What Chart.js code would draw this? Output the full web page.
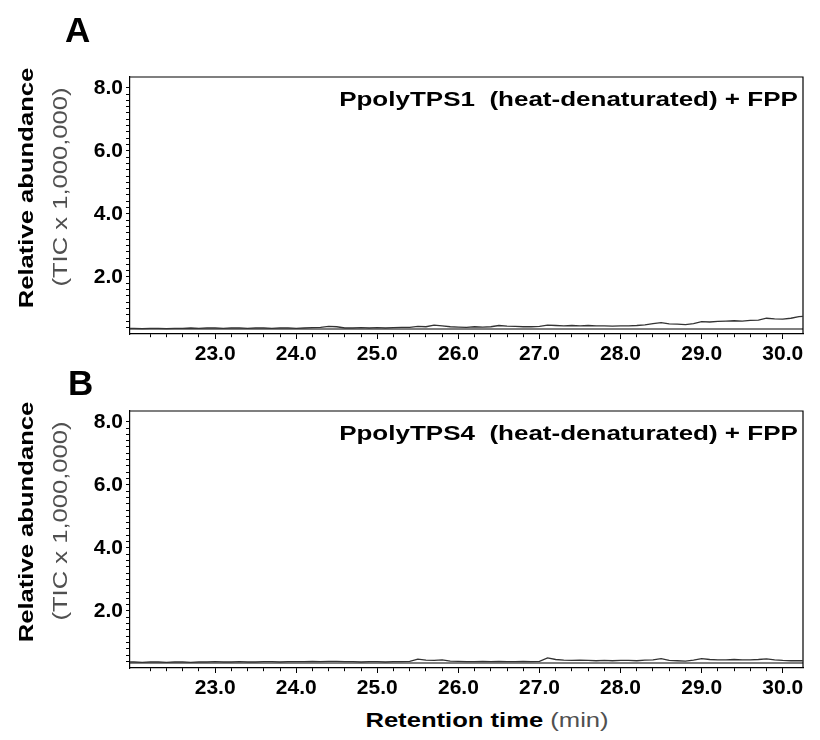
<!DOCTYPE html>
<html>
<head>
<meta charset="utf-8">
<script src="https://cdn.jsdelivr.net/npm/chart.js@4.4.1/dist/chart.umd.min.js"></script>
<style>
  body { margin: 0; background: #fff; }
  #page { position: relative; width: 820px; height: 740px; overflow: hidden; font-family: "Liberation Sans", Arial, sans-serif; }
  canvas { position: absolute; left: 0; }
  .panel { position: absolute; font-weight: bold; font-size: 35px; line-height: 35px; color: #000; }
  .note { position: absolute; right: 22px; font-weight: bold; font-size: 20px; line-height: 20px; white-space: nowrap; transform: scaleX(1.3); transform-origin: right center; }
  .ytitle { position: absolute; white-space: nowrap; font-weight: bold; font-size: 21px; line-height: 21px; transform: translate(-50%, -50%) rotate(-90deg) scaleX(1.22); }
  .ysub { position: absolute; white-space: nowrap; font-size: 20px; line-height: 20px; color: #505050; transform: translate(-50%, -50%) rotate(-90deg) scaleX(1.28); }
  .xtitle { position: absolute; left: 487px; top: 720px; white-space: nowrap; font-size: 20px; line-height: 20px; transform: translate(-50%, -50%) scaleX(1.28); }
  .xtitle b { color: #000; }
  .xtitle span { color: #505050; }
</style>
</head>
<body>
<div id="page">
  <canvas id="chartA" width="820" height="372" style="top:0"></canvas>
  <canvas id="chartB" width="820" height="372" style="top:334px"></canvas>

  <div class="panel" style="left:65px; top:12px">A</div>
  <div class="panel" style="left:68px; top:365px">B</div>

  <div class="note" style="top:89px">PpolyTPS1 &nbsp;(heat-denaturated) + FPP</div>
  <div class="note" style="top:423px">PpolyTPS4 &nbsp;(heat-denaturated) + FPP</div>

  <div class="ytitle" style="left:25px; top:188px">Relative abundance</div>
  <div class="ysub" style="left:60px; top:187px">(TIC x 1,000,000)</div>
  <div class="ytitle" style="left:25px; top:522px">Relative abundance</div>
  <div class="ysub" style="left:60px; top:521px">(TIC x 1,000,000)</div>

  <div class="xtitle"><b>Retention time</b> <span>(min)</span></div>
</div>

<script>
// retention time (min)
const retentionTimes = [
  21.95,
  22.0, 22.1, 22.2, 22.3, 22.4, 22.5, 22.6, 22.7, 22.8, 22.9,
  23.0, 23.1, 23.2, 23.3, 23.4, 23.5, 23.6, 23.7, 23.8, 23.9,
  24.0, 24.1, 24.2, 24.3, 24.4, 24.5, 24.6, 24.7, 24.8, 24.9,
  25.0, 25.1, 25.2, 25.3, 25.4, 25.5, 25.6, 25.7, 25.8, 25.9,
  26.0, 26.1, 26.2, 26.3, 26.4, 26.5, 26.6, 26.7, 26.8, 26.9,
  27.0, 27.1, 27.2, 27.3, 27.4, 27.5, 27.6, 27.7, 27.8, 27.9,
  28.0, 28.1, 28.2, 28.3, 28.4, 28.5, 28.6, 28.7, 28.8, 28.9,
  29.0, 29.1, 29.2, 29.3, 29.4, 29.5, 29.6, 29.7, 29.8, 29.9,
  30.0, 30.1, 30.2,
  30.25
];

// TIC x 1,000,000 - PpolyTPS1 (heat-denaturated) + FPP
const ticTPS1 = [
  0.37,
  0.37, 0.36, 0.37, 0.37, 0.36, 0.37, 0.37, 0.38, 0.37, 0.38,
  0.38, 0.37, 0.38, 0.38, 0.37, 0.38, 0.38, 0.37, 0.38, 0.38,
  0.37, 0.38, 0.39, 0.40, 0.43, 0.42, 0.38, 0.38, 0.39, 0.38,
  0.39, 0.38, 0.39, 0.40, 0.40, 0.43, 0.42, 0.47, 0.45, 0.42,
  0.41, 0.40, 0.42, 0.41, 0.42, 0.46, 0.44, 0.43, 0.42, 0.42,
  0.43, 0.47, 0.46, 0.45, 0.46, 0.45, 0.46, 0.45, 0.45, 0.44,
  0.45, 0.45, 0.46, 0.48, 0.52, 0.55, 0.51, 0.50, 0.49, 0.52,
  0.58, 0.57, 0.59, 0.60, 0.61, 0.60, 0.62, 0.63, 0.69, 0.67,
  0.66, 0.69, 0.74,
  0.75
];

// TIC x 1,000,000 - PpolyTPS4 (heat-denaturated) + FPP
const ticTPS4 = [
  0.38,
  0.38, 0.37, 0.38, 0.38, 0.37, 0.38, 0.38, 0.37, 0.38, 0.38,
  0.39, 0.38, 0.38, 0.39, 0.38, 0.38, 0.39, 0.39, 0.38, 0.39,
  0.39, 0.39, 0.40, 0.39, 0.40, 0.40, 0.39, 0.39, 0.38, 0.39,
  0.39, 0.38, 0.39, 0.39, 0.40, 0.47, 0.44, 0.43, 0.45, 0.41,
  0.40, 0.39, 0.39, 0.40, 0.39, 0.40, 0.39, 0.39, 0.40, 0.39,
  0.40, 0.51, 0.46, 0.44, 0.43, 0.44, 0.43, 0.42, 0.43, 0.42,
  0.43, 0.43, 0.42, 0.44, 0.45, 0.49, 0.43, 0.42, 0.41, 0.44,
  0.49, 0.46, 0.45, 0.45, 0.46, 0.45, 0.45, 0.46, 0.48, 0.45,
  0.43, 0.42, 0.42,
  0.42
];

const xTickLabels = [23, 24, 25, 26, 27, 28, 29, 30];
const yTickLabels = [2, 4, 6, 8];

const tickFont = { family: '"Liberation Sans", Arial, sans-serif', size: 21, weight: 'bold' };

function onStep(v) {
  return Math.abs(v * 5 - Math.round(v * 5)) < 1e-6;
}

function isLabelled(v, list) {
  return list.some(n => Math.abs(v - n) < 1e-6);
}

// box round the plot: top, right and the inner base line
const frame = {
  id: 'frame',
  beforeDatasetsDraw(chart) {
    const { ctx, chartArea } = chart;
    ctx.save();
    ctx.strokeStyle = '#000';
    ctx.lineWidth = 1.2;
    ctx.beginPath();
    ctx.moveTo(chartArea.left, chartArea.top);
    ctx.lineTo(chartArea.right, chartArea.top);
    ctx.lineTo(chartArea.right, chartArea.bottom);
    ctx.moveTo(chartArea.left, chartArea.bottom - 5);
    ctx.lineTo(chartArea.right, chartArea.bottom - 5);
    ctx.stroke();
    ctx.restore();
  }
};

function makeChart(id, series) {
  const ctx = document.getElementById(id).getContext('2d');
  return new Chart(ctx, {
    type: 'line',
    data: {
      datasets: [
        {
          data: retentionTimes.map((t, i) => ({ x: t, y: series[i] })),
          borderColor: '#333',
          borderWidth: 1.3,
          pointRadius: 0,
          tension: 0,
          fill: false,
        },
      ],
    },
    options: {
      responsive: false,
      animation: false,
      devicePixelRatio: 1,
      layout: { padding: { top: 77, right: 17, left: 0, bottom: 0 } },
      plugins: { legend: { display: false }, tooltip: { enabled: false } },
      scales: {
        x: {
          type: 'linear',
          min: 21.95,
          max: 30.25,
          afterBuildTicks: scale => {
            scale.ticks = scale.ticks.filter(t => t.value > 21.99 && t.value < 30.21 && onStep(t.value));
          },
          afterFit: scale => {
            scale.height = 38;
          },
          ticks: {
            stepSize: 0.2,
            autoSkip: false,
            maxRotation: 0,
            padding: 3,
            color: '#000',
            font: tickFont,
            callback: value => (isLabelled(value, xTickLabels) ? value.toFixed(1) : ''),
          },
          grid: {
            drawOnChartArea: false,
            drawTicks: true,
            tickLength: 5,
            color: '#000',
            lineWidth: 1,
            tickBorderDash: c => (c.tick && Math.abs(c.tick.value - Math.round(c.tick.value)) < 1e-6 ? [] : [3, 10]),
          },
          border: { display: true, color: '#000', width: 1.2 },
        },
        y: {
          min: 0.19,
          max: 8.34,
          afterBuildTicks: scale => {
            scale.ticks = scale.ticks.filter(t => t.value > 0.39 && t.value < 8.21 && onStep(t.value));
          },
          afterFit: scale => {
            scale.width = 130;
          },
          ticks: {
            stepSize: 0.2,
            autoSkip: false,
            padding: 3,
            color: '#000',
            font: tickFont,
            callback: value => (isLabelled(value, yTickLabels) ? value.toFixed(1) : ''),
          },
          grid: {
            drawOnChartArea: false,
            drawTicks: true,
            tickLength: 4,
            color: '#000',
            lineWidth: 1,
          },
          border: { display: true, color: '#000', width: 1.2 },
        },
      },
    },
    plugins: [frame],
  });
}

makeChart('chartA', ticTPS1);
makeChart('chartB', ticTPS4);
</script>
</body>
</html>
